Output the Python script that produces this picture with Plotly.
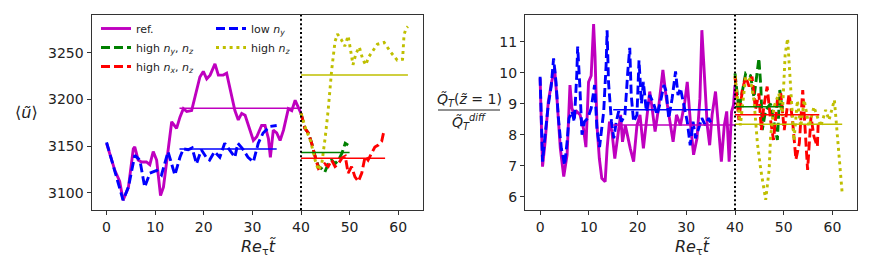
import plotly.graph_objects as go

W, H = 872, 273

# ---------------- data: left panel  <u~> ----------------
t_ref = [0, 1.7, 2.7, 3.4, 4.5, 5.5, 5.8, 6.5, 7.2, 8.2, 8.9, 9.6, 10.3, 11.1, 11.7, 12.7, 13.4, 14.4, 15.1,
         15.8, 16.5, 17.5, 18.5, 19.2, 19.9, 20.6, 21.3, 22.3, 23, 24, 24.7, 25.4, 26.4, 27.1, 27.8, 28.5,
         29.1, 30.2, 30.9, 31.9, 32.6, 33.3, 33.7, 34.3, 35, 35.7, 36.4, 37.4, 38.1, 38.8, 39.4, 40]
u_ref = [3153, 3124, 3112, 3092, 3106, 3147, 3149, 3135, 3133, 3133, 3130, 3144, 3135, 3097, 3106, 3149, 3176,
         3169, 3181, 3190, 3187, 3188, 3210, 3224, 3230, 3222, 3226, 3238, 3226, 3226, 3228, 3210, 3188, 3178,
         3185, 3183, 3174, 3156, 3160, 3172, 3172, 3158, 3138, 3167, 3164, 3156, 3167, 3190, 3188, 3199, 3192, 3185]

t_low = [0, 1.7, 3.4, 4.5, 5.8, 6.85, 7.85, 8.9, 10.3, 11.3, 12.3, 12.65, 14.05, 15.1, 15.8, 16.8, 17.6, 18.5,
         19.5, 20.5, 21.2, 22.2, 23.3, 24.3, 25.3, 26.4, 27, 28, 29.1, 30.2, 31.2, 32.2, 33.6, 35]
u_low = [3154, 3124, 3092, 3106, 3140, 3135, 3106, 3121, 3124, 3119, 3138, 3144, 3119, 3138, 3147, 3146, 3148,
         3131, 3146, 3138, 3135, 3144, 3138, 3153, 3146, 3138, 3153, 3147, 3138, 3133, 3153, 3164, 3171, 3172]

t_hyz = [40, 40.8, 41.5, 42.2, 42.9, 43.6, 44.2, 44.9, 45.6, 46.3, 47, 47.7, 48.4, 49.1, 49.7]
u_hyz = [3185, 3169, 3164, 3153, 3139, 3128, 3126, 3122, 3131, 3135, 3131, 3135, 3142, 3153, 3151]

t_hxz = [40, 40.8, 41.5, 42.2, 42.9, 43.6, 44.2, 44.9, 45.6, 46.3, 47, 47.7, 48.4, 49.1, 49.7, 50.4, 51.1,
         51.8, 52.5, 53.2, 53.8, 54.5, 55.2, 55.9, 56.6, 57.1]
u_hxz = [3185, 3169, 3164, 3153, 3139, 3126, 3128, 3131, 3128, 3135, 3128, 3131, 3137, 3139, 3121, 3128, 3117,
         3112, 3121, 3139, 3135, 3142, 3149, 3151, 3155, 3167]

t_hz = [40, 41, 42, 42.9, 43.6, 44.3, 45, 45.6, 46.3, 47, 47.5, 48.3, 49, 49.7, 50, 50.7, 51.3, 52, 52.7, 53.3,
        54, 54.7, 55.7, 57.1, 58.4, 59.8, 60.9, 61.2, 61.6, 62]
u_hz = [3185, 3168, 3155, 3135, 3124, 3132, 3160, 3189, 3231, 3262, 3270, 3264, 3257, 3268, 3259, 3237, 3249,
        3256, 3243, 3237, 3246, 3251, 3259, 3261, 3251, 3242, 3243, 3269, 3276, 3278]

# ---------------- data: right panel  Q_T / Q_T^diff ----------------
tq_ref = [0, 0.5, 1.03, 1.68, 2.37, 2.97, 3.46, 4.15, 4.85, 5.54, 6.13, 6.53, 7.02, 7.52, 8.2, 8.9, 9.4, 9.94,
          10.48, 10.98, 11.27, 11.67, 12.16, 12.66, 13.35, 13.75, 14.24, 14.74, 15.33, 15.82, 16.52, 16.91,
          17.5, 18.5, 19.19, 19.88, 20.5, 21.2, 22.0, 22.5, 22.9, 23.6, 24.3, 25.2, 25.9, 26.6, 27.3, 28.0,
          28.8, 29.7, 30.2, 30.9, 31.5, 32.2, 32.8, 33.2, 33.7, 34.3, 34.8, 35.3, 36.0, 36.7, 37.2, 37.8, 38.3,
          38.8, 39.3, 39.7, 40.0]
q_ref = [9.82, 6.97, 7.77, 9.06, 9.7, 10.14, 9.17, 7.56, 6.65, 7.35, 9.6, 8.85, 8.64, 8.75, 8.64, 8.2, 7.6, 9.7,
         9.9, 11.57, 10.55, 8.3, 7.23, 6.59, 6.48, 7.56, 8.42, 8.1, 7.23, 7.77, 8.64, 7.77, 8.3, 7.56, 7.13, 8.3,
         8.64, 7.56, 8.64, 9.39, 8.96, 8.1, 8.85, 10.09, 9.17, 8.53, 7.77, 8.64, 8.3, 9.06, 9.7, 8.3, 7.35, 7.88,
         9.17, 11.37, 9.92, 8.3, 7.66, 8.64, 9.39, 7.99, 7.13, 8.3, 8.75, 7.13, 8.75, 8.96, 9.6]

tq_low = [0, 0.5, 1.03, 1.68, 2.27, 2.77, 3.26, 3.76, 4.35, 5.04, 5.54, 5.93, 6.53, 7.02, 7.52, 7.71, 8.11, 8.6,
          9.1, 9.79, 10.48, 11.18, 11.67, 12.2, 13.05, 13.55, 13.75, 14.04, 14.64, 15.13, 15.63, 16.12, 16.71,
          17.41, 18.0, 18.4, 18.7, 19.19, 19.88, 20.3, 20.8, 21.2, 21.8, 22.5, 23.3, 24.0, 24.7, 25.4, 25.9,
          26.4, 27.1, 27.8, 28.3, 28.8, 29.5, 30.2, 30.8, 31.4, 31.9, 32.6, 33.2, 33.9, 34.6, 35.0]
q_low = [9.87, 7.13, 8.0, 8.96, 9.55, 10.46, 9.7, 8.53, 7.56, 7.02, 7.77, 8.53, 8.75, 8.42, 9.92, 10.84, 9.7, 8.0,
         8.42, 8.53, 8.85, 9.6, 8.2, 7.6, 8.75, 10.25, 11.37, 9.7, 8.42, 7.88, 8.42, 8.75, 8.42, 8.64, 10.04, 10.8,
         9.28, 8.42, 8.64, 10.4, 9.0, 9.7, 8.75, 9.28, 9.0, 8.64, 9.06, 9.6, 9.39, 8.53, 9.17, 10.04, 9.28, 9.5,
         8.96, 8.42, 7.66, 8.42, 7.88, 8.2, 8.53, 8.3, 8.53, 8.4]

tq_hyz = [40, 40.8, 42.2, 43.2, 43.9, 44.9, 45.3, 45.6, 46.3, 47.3, 47.9, 48.7, 49.2, 49.7]
q_hyz = [9.98, 8.8, 9.98, 9.9, 9.2, 10.46, 9.55, 8.15, 8.8, 9.0, 8.47, 7.83, 9.44, 8.8]

tq_hxz = [40, 40.8, 41.5, 42.2, 42.9, 43.5, 44.2, 44.9, 45.4, 45.9, 46.6, 47.3, 47.9, 48.7, 49.4, 50.1, 51.1,
          51.8, 52.5, 53.2, 53.9, 54.5, 54.9, 55.6, 56.2, 56.9, 57.1]
q_hxz = [9.87, 8.47, 9.44, 9.87, 9.55, 9.87, 8.8, 9.33, 8.15, 8.9, 9.55, 8.47, 7.83, 9.12, 9.33, 8.15, 9.33,
         8.47, 7.2, 7.72, 9.44, 7.72, 6.86, 8.58, 7.94, 7.62, 8.47]

tq_hz = [40, 41.1, 42.2, 43.2, 43.9, 44.6, 45.3, 46.3, 47, 47.3, 48, 49, 49.7, 50.3, 50.8, 51.4, 52.1, 52.8,
         53.5, 54.2, 55.2, 56.2, 57.6, 58.6, 59.3, 60.4, 61.4, 62]
q_hz = [9.9, 8.3, 9.87, 9.76, 9.1, 7.72, 6.86, 5.9, 6.86, 7.94, 8.9, 9.33, 8.6, 10.6, 11.1, 9.66, 7.8, 9.1,
        8.26, 9.12, 8.26, 8.9, 8.26, 8.8, 8.47, 9.12, 7.4, 6.1]

# time-averages and averaging windows (ref, low ny, high ny nz, high nx nz, high nz)
mean_t0 = [15, 15, 40, 40, 40]
mean_t1 = [40, 35, 50, 57.3, 62]
mean_u = [3190.4, 3146.8, 3143.2, 3137.0, 3226.0]
mean_q = [8.31, 8.80, 8.90, 8.64, 8.34]

restart_t = 40
x_ticks = [0, 10, 20, 30, 40, 50, 60]
u_ticks = [3100, 3150, 3200, 3250]
q_ticks = [6, 7, 8, 9, 10, 11]

names = ["ref.", "low <i>n<sub>y</sub></i>", "high <i>n<sub>y</sub></i>, <i>n<sub>z</sub></i>",
         "high <i>n<sub>x</sub></i>, <i>n<sub>z</sub></i>", "high <i>n<sub>z</sub></i>"]
colors = ["#bf00bf", "#0000ff", "#008000", "#ff0000", "#bfbf00"]
dashes = ["solid", "9px,4px", "9px,4px", "9px,4px", "3px,3.8px"]
legends = ["legend", "legend2", "legend", "legend", "legend2"]

left_series = [(t_ref, u_ref), (t_low, u_low), (t_hyz, u_hyz), (t_hxz, u_hxz), (t_hz, u_hz)]
right_series = [(tq_ref, q_ref), (tq_low, q_low), (tq_hyz, q_hyz), (tq_hxz, q_hxz), (tq_hz, q_hz)]

FONT = "DejaVu Sans"
LW = 2.9
fig = go.Figure()

for i, (tx, uy) in enumerate(left_series):
    fig.add_trace(go.Scatter(x=tx, y=uy, mode="lines", name=names[i], legend=legends[i],
                             line=dict(color=colors[i], width=LW, dash=dashes[i]),
                             xaxis="x", yaxis="y", showlegend=True))
for i, (tx, qy) in enumerate(right_series):
    fig.add_trace(go.Scatter(x=tx, y=qy, mode="lines", name=names[i],
                             line=dict(color=colors[i], width=LW, dash=dashes[i]),
                             xaxis="x2", yaxis="y2", showlegend=False))
for i in range(5):
    fig.add_trace(go.Scatter(x=[mean_t0[i], mean_t1[i]], y=[mean_u[i], mean_u[i]], mode="lines",
                             line=dict(color=colors[i], width=1.5), xaxis="x", yaxis="y", showlegend=False))
    fig.add_trace(go.Scatter(x=[mean_t0[i], mean_t1[i]], y=[mean_q[i], mean_q[i]], mode="lines",
                             line=dict(color=colors[i], width=1.5), xaxis="x2", yaxis="y2", showlegend=False))

for xr, yr in [("x", "y domain"), ("x2", "y2 domain")]:
    fig.add_shape(type="line", xref=xr, yref=yr, x0=restart_t, x1=restart_t, y0=0, y1=1,
                  line=dict(color="black", width=2, dash="2px,2.4px"))


def px(x):
    return x / W


def py(y):
    return 1 - y / H


ydom = [py(210), py(15)]
axis_common = dict(showline=True, mirror=True, linecolor="#333", linewidth=1, ticks="outside", ticklen=4,
                   tickwidth=1, tickcolor="#333", showgrid=False, zeroline=False,
                   tickfont=dict(family=FONT, size=14, color="#222"))

fig.update_layout(
    width=W, height=H, margin=dict(l=0, r=0, t=0, b=0),
    paper_bgcolor="white", plot_bgcolor="white",
    xaxis=dict(domain=[px(91.5), px(423)], range=[-3.1, 65.1], tickvals=x_ticks, anchor="y", **axis_common),
    yaxis=dict(domain=ydom, range=[3081.5, 3290.4], tickvals=u_ticks, anchor="x", **axis_common),
    xaxis2=dict(domain=[px(525), px(857.3)], range=[-3.1, 65.1], tickvals=x_ticks, anchor="y2", **axis_common),
    yaxis2=dict(domain=ydom, range=[5.57, 11.86], tickvals=q_ticks, anchor="x2", **axis_common),
    legend=dict(x=px(96), y=py(14), xanchor="left", yanchor="top", bgcolor="rgba(0,0,0,0)",
                font=dict(family=FONT, size=11, color="#222"), itemwidth=30, tracegroupgap=0),
    legend2=dict(x=px(211), y=py(14), xanchor="left", yanchor="top", bgcolor="rgba(0,0,0,0)",
                 font=dict(family=FONT, size=11, color="#222"), itemwidth=30, tracegroupgap=0),
    showlegend=True,
)

xlabel = "<i>Re</i><sub>τ</sub><i>t̃</i>"
anns = [
    dict(x=px(258), y=py(247), text=xlabel, font=dict(size=16)),
    dict(x=px(692), y=py(247), text=xlabel, font=dict(size=16)),
    dict(x=px(26), y=py(113), text="⟨<i>ũ</i>⟩", font=dict(size=16)),
    dict(x=px(469), y=py(100), text="<i>Q̃</i><sub><i>T</i></sub>(<i>z̃</i> = 1)", font=dict(size=14)),
    dict(x=px(469), y=py(122), text="<i>Q̃</i><sub><i>T</i></sub><sup><i>diff</i></sup>", font=dict(size=14)),
]
for a in anns:
    a["font"].update(family=FONT, color="#222")
    fig.add_annotation(xref="paper", yref="paper", showarrow=False, xanchor="center", yanchor="middle", **a)

fig.add_shape(type="line", xref="paper", yref="paper", x0=px(438), x1=px(500), y0=py(110), y1=py(110),
              line=dict(color="#222", width=1))

fig.write_html("out.html", config={"displayModeBar": False},
               post_script="document.body.style.margin='0px';")
